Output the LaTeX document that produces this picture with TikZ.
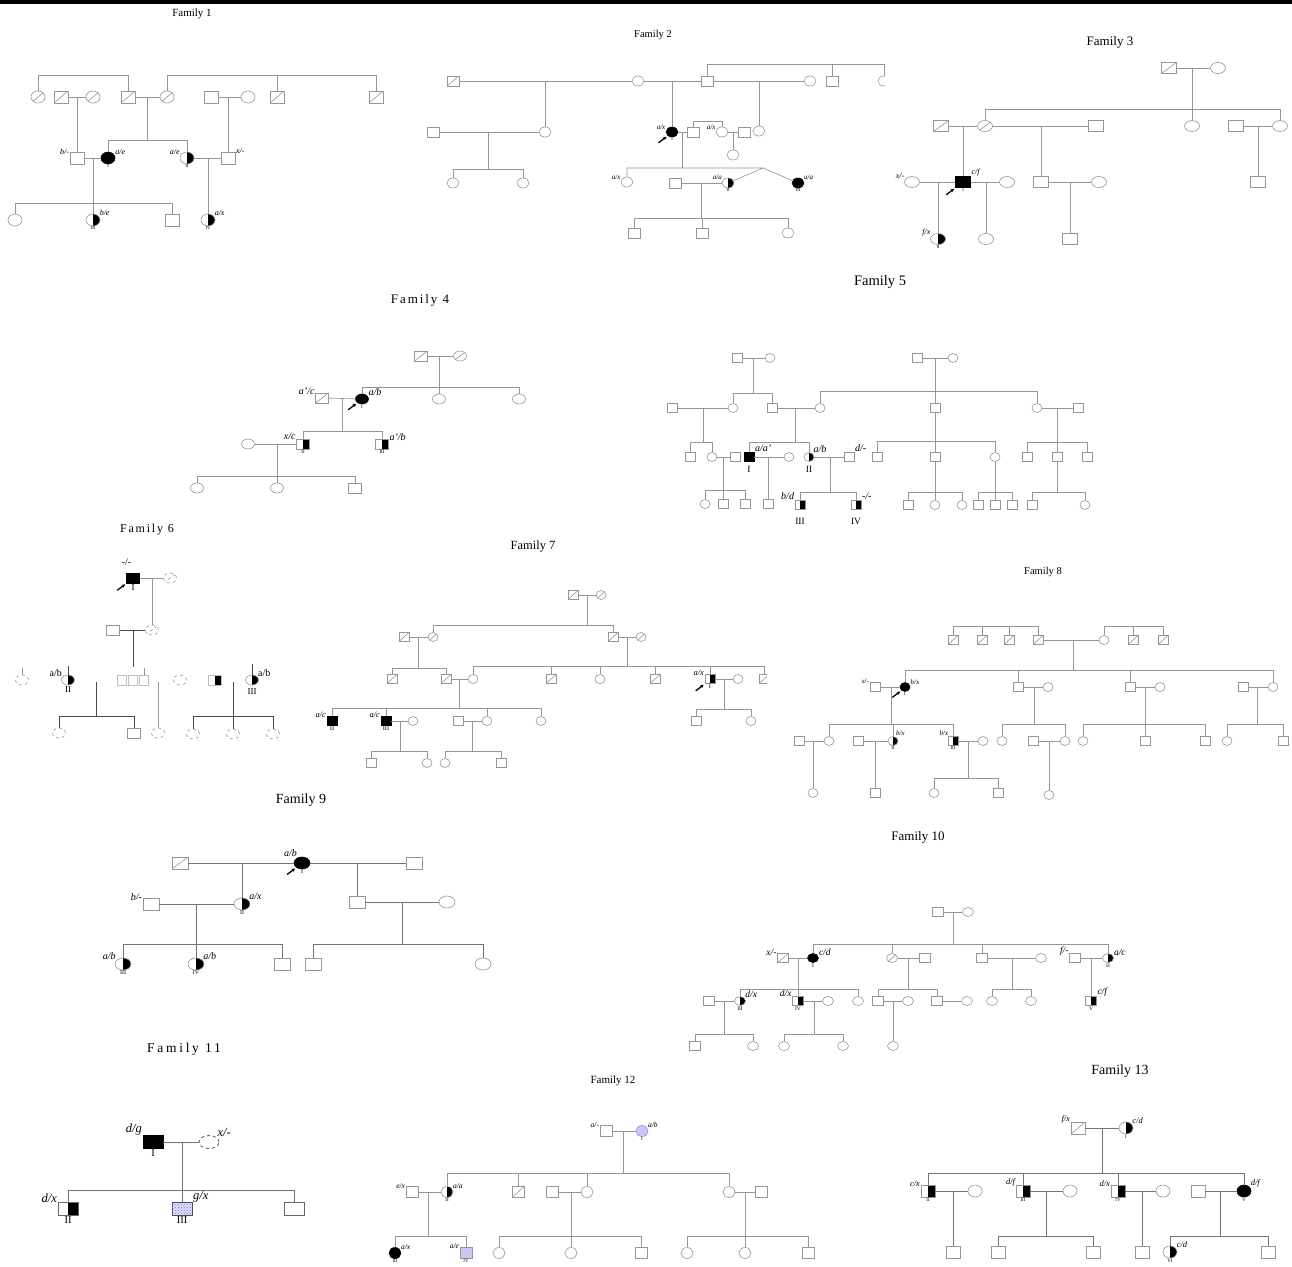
\documentclass[tikz,border=0pt]{standalone}
\usepackage{fontspec}
\setmainfont{Liberation Serif}
\usetikzlibrary{shapes.geometric,arrows.meta,patterns}
\definecolor{lgray}{RGB}{150,150,150}
\definecolor{lblue}{RGB}{200,200,240}
\tikzset{
  ln/.style={draw=lgray,line width=0.6pt},
  sym/.style={minimum width=12pt,minimum height=10pt},
  pbase/.style={sym,inner sep=0pt,draw=lgray,line width=0.6pt,fill=white},
  sq/.style={pbase,rectangle},
  ci/.style={pbase,ellipse},
  sqA/.style={sq,fill=black,draw=black},
  ciA/.style={ci,fill=black,draw=black},
  halfbk/.style={path picture={\fill[black] (path picture bounding box.north) rectangle (path picture bounding box.south east);}},
  sqH/.style={sq,halfbk},
  ciH/.style={ci,halfbk},
  slash/.style={path picture={\draw[lgray,line width=0.6pt] (path picture bounding box.south west) -- (path picture bounding box.north east);}},
  sqD/.style={sq,slash},
  ciD/.style={ci,slash},
  sqP/.style={sq,fill=lblue!60,draw=black!70,line width=0.9pt,postaction={pattern=crosshatch dots,pattern color=blue!55}},
  gt/.style={font=\fontsize{7}{7}\selectfont\itshape,inner sep=0.5pt},
  rn/.style={font=\fontsize{5}{5}\selectfont,inner sep=0.5pt},
  ttl/.style={font=\fontsize{11}{11}\selectfont},
  prb/.style={-{Stealth[length=3.5pt,width=3.5pt]},line width=1.3pt,black},
}
\newcommand\kids[3]{%
  \draw[ln] (#1) -- (#1 |- 0,#2);
  \foreach \kid in {#3} {\draw[ln] (\kid) |- (#1 |- 0,#2);}%
}
\newcommand\sibs[3]{%
  \foreach \kid in {#3} {\draw[ln] (#2) |- (\kid |- 0,#1) -- (\kid);}%
}
\newcommand\proband[1]{%
  \draw[prb] ([shift={(-9pt,-7pt)}]#1.south west) -- ([shift={(-1pt,-1pt)}]#1.south west);}

\begin{document}
\begin{tikzpicture}[x=1pt,y=-1pt]
  \fill[white] (0,0) rectangle (1292,1266);
  \useasboundingbox (0,0) rectangle (1292,1266);
  \fill[black] (0,0) rectangle (1292,4);

  % Family 1
  \begin{scope}[sym/.style={minimum width=14pt,minimum height=12pt},
    gt/.style={font=\fontsize{8}{8}\selectfont\itshape,inner sep=0.5pt},
    rn/.style={font=\fontsize{4.5}{4.5}\selectfont,inner sep=0.5pt}]
  \node[ttl] (t1) at (192,14) {Family 1};
  \node[ciD] (f1a) at (38,97) {};
  \node[sqD] (f1b) at (61,97) {};
  \node[ciD] (f1c) at (93,97) {};
  \node[sqD] (f1d) at (128,97) {};
  \node[ciD] (f1e) at (167,97) {};
  \node[sq] (f1f) at (211,97) {};
  \node[ci] (f1g) at (248,97) {};
  \node[sqD] (f1h) at (277,97) {};
  \node[sqD] (f1i) at (376,97) {};
  \sibs{75}{f1a}{f1d}
  \sibs{75}{f1e}{f1h,f1i}
  \draw[ln] (f1b) -- (f1c) (f1d) -- (f1e) (f1f) -- (f1g);
  \coordinate (f1m1) at (77,97);
  \coordinate (f1m2) at (147,97);
  \coordinate (f1m3) at (228,97);
  \node[sq,label={[gt]160:b/-}] (f1j) at (77,158) {};
  \node[ciA,label={[gt]20:a/e},label={[rn]below:I}] (f1k) at (108,158) {};
  \node[ciH,label={[gt]160:a/e},label={[rn]below:II}] (f1l) at (187,158) {};
  \node[sq,label={[gt]30:x/-}] (f1m) at (228,158) {};
  \draw[ln] (f1m1) -- (f1j) (f1m3) -- (f1m);
  \kids{f1m2}{140}{f1k,f1l}
  \draw[ln] (f1j) -- (f1k) (f1l) -- (f1m);
  \coordinate (f1m4) at (93,158);
  \coordinate (f1m5) at (208,158);
  \node[ci] (f1n) at (15,220) {};
  \node[ciH,label={[gt]30:b/e},label={[rn]below:III}] (f1o) at (93,220) {};
  \node[sq] (f1p) at (172,220) {};
  \node[ciH,label={[gt]30:a/x},label={[rn]below:IV}] (f1q) at (208,220) {};
  \kids{f1m4}{203}{f1n,f1o,f1p}
  \draw[ln] (f1m5) -- (f1q);
  \end{scope}

  % Family 2
  \begin{scope}[gt/.style={font=\fontsize{7}{7}\selectfont\itshape,inner sep=0.5pt},
    rn/.style={font=\fontsize{4.5}{4.5}\selectfont,inner sep=0.5pt},
    ttl/.style={font=\fontsize{10.5}{10.5}\selectfont}]
  \node[ttl] (t2) at (653,35) {Family 2};
  \node[sqD] (f2a) at (453,81) {};
  \node[ci] (f2b) at (638,81) {};
  \node[sq] (f2c) at (707,81) {};
  \node[ci] (f2d) at (810,81) {};
  \node[sq] (f2e) at (832,81) {};
  \begin{scope}
    \clip (870,70) rectangle (885,92);
    \node[ci] (f2f) at (884,81) {};
  \end{scope}
  \draw[ln] (f2a) -- (f2b) -- (f2c) -- (f2d);
  \sibs{64}{f2c}{f2e,f2f}
  \coordinate (f2p1) at (545,81);
  \coordinate (f2p2) at (672,81);
  \coordinate (f2p3) at (759,81);
  \node[sq] (f2g) at (433,132) {};
  \node[ci] (f2h) at (545,132) {};
  \node[ciA,label={[gt]165:a/x},label={[rn]below:I}] (f2i) at (672,132) {};
  \node[sq] (f2j) at (693,132) {};
  \node[ci,label={[gt]160:a/x}] (f2k) at (722,132) {};
  \node[sq] (f2l) at (744,132) {};
  \node[ci] (f2m) at (759,131) {};
  \draw[ln] (f2p1) -- (f2h) (f2p2) -- (f2i) (f2p3) -- (f2m);
  \draw[ln] (f2g) -- (f2h) (f2i) -- (f2j) (f2k) -- (f2l);
  \sibs{121}{f2j}{f2k}
  \proband{f2i}
  \coordinate (f2p4) at (488,132);
  \node[ci] (f2n) at (453,183) {};
  \node[ci] (f2o) at (523,183) {};
  \kids{f2p4}{169}{f2n,f2o}
  \coordinate (f2p5) at (733,132);
  \node[ci] (f2q) at (733,155) {};
  \draw[ln] (f2p5) -- (f2q);
  \coordinate (f2p6) at (682,132);
  \coordinate (f2tw) at (763,168);
  \node[ci,label={[gt]160:a/x}] (f2r) at (627,182) {};
  \node[sq] (f2s) at (675,183) {};
  \node[ciH,label={[gt]155:a/a},label={[rn]below:II}] (f2t) at (728,183) {};
  \node[ciA,label={[gt]25:a/a},label={[rn]below:III}] (f2u) at (798,183) {};
  \draw[ln] (f2p6) -- (f2p6 |- f2tw);
  \draw[ln] (f2r) |- (f2tw) -- (f2t) (f2tw) -- (f2u);
  \draw[ln] (f2s) -- (f2t);
  \coordinate (f2p7) at (701,183);
  \node[sq] (f2v) at (634,233) {};
  \node[sq] (f2w) at (702,233) {};
  \node[ci] (f2x) at (788,233) {};
  \kids{f2p7}{218}{f2v,f2w,f2x}
  \end{scope}

  % Family 3
  \begin{scope}[sym/.style={minimum width=15pt,minimum height=11pt},
    gt/.style={font=\fontsize{8}{8}\selectfont\itshape,inner sep=0.5pt},
    rn/.style={font=\fontsize{4.5}{4.5}\selectfont,inner sep=0.5pt},
    ttl/.style={font=\fontsize{13}{13}\selectfont}]
  \node[ttl] (t3) at (1110,42) {Family 3};
  \node[sqD] (f3a) at (1169,68) {};
  \node[ci] (f3b) at (1218,68) {};
  \draw[ln] (f3a) -- (f3b);
  \coordinate (f3p1) at (1192,68);
  \node[sqD] (f3c) at (941,126) {};
  \node[ciD] (f3d) at (985,126) {};
  \node[sq] (f3e) at (1096,126) {};
  \node[ci] (f3f) at (1192,126) {};
  \node[sq] (f3g) at (1236,126) {};
  \node[ci] (f3h) at (1280,126) {};
  \kids{f3p1}{109}{f3d,f3f,f3h}
  \draw[ln] (f3c) -- (f3d) -- (f3e) (f3g) -- (f3h);
  \coordinate (f3p2) at (963,126);
  \coordinate (f3p3) at (1041,126);
  \coordinate (f3p4) at (1258,126);
  \node[ci,label={[gt]160:x/-}] (f3i) at (912,182) {};
  \node[sqA,label={[gt]35:c/f},label={[rn]below:I}] (f3j) at (963,182) {};
  \node[ci] (f3k) at (1007,182) {};
  \node[sq] (f3l) at (1041,182) {};
  \node[ci] (f3m) at (1099,182) {};
  \node[sq] (f3n) at (1258,182) {};
  \draw[ln] (f3p2) -- (f3j) (f3p3) -- (f3l) (f3p4) -- (f3n);
  \draw[ln] (f3i) -- (f3j) -- (f3k) (f3l) -- (f3m);
  \proband{f3j}
  \coordinate (f3p5) at (938,182);
  \coordinate (f3p6) at (986,182);
  \coordinate (f3p7) at (1070,182);
  \node[ciH,label={[gt]160:f/x},label={[rn]below:II}] (f3o) at (938,239) {};
  \node[ci] (f3q) at (986,239) {};
  \node[sq] (f3r) at (1070,239) {};
  \draw[ln] (f3p5) -- (f3o) (f3p6) -- (f3q) (f3p7) -- (f3r);
  \end{scope}

  % Family 4
  \begin{scope}[sym/.style={minimum width=13pt,minimum height=10pt},
    gt/.style={font=\fontsize{10}{10}\selectfont\itshape,inner sep=0.5pt},
    rn/.style={font=\fontsize{5}{5}\selectfont,inner sep=0.5pt},
    ttl/.style={font=\fontsize{13}{13}\selectfont\addfontfeature{LetterSpace=15}}]
  \node[ttl] (t4) at (420,300) {Family 4};
  \node[sqD] (f4a) at (421,356) {};
  \node[ciD] (f4b) at (460,356) {};
  \draw[ln] (f4a) -- (f4b);
  \coordinate (f4p1) at (439,356);
  \node[sqD,label={[gt]160:a’/c}] (f4c) at (322,398) {};
  \node[ciA,label={[gt]25:a/b},label={[rn]below:I}] (f4d) at (362,399) {};
  \node[ci] (f4e) at (439,399) {};
  \node[ci] (f4f) at (519,399) {};
  \kids{f4p1}{387}{f4d,f4e,f4f}
  \draw[ln] (f4c) -- (f4d);
  \proband{f4d}
  \coordinate (f4p2) at (342,398);
  \node[ci] (f4g) at (248,444) {};
  \node[sqH,label={[gt]150:x/c},label={[rn]below:II}] (f4h) at (303,444) {};
  \node[sqH,label={[gt]25:a’/b},label={[rn]below:III}] (f4i) at (382,444) {};
  \kids{f4p2}{431}{f4h,f4i}
  \draw[ln] (f4g) -- (f4h);
  \coordinate (f4p3) at (277,444);
  \node[ci] (f4j) at (197,488) {};
  \node[ci] (f4k) at (277,488) {};
  \node[sq] (f4l) at (355,488) {};
  \kids{f4p3}{476}{f4j,f4k,f4l}
  \end{scope}

  % Family 5
  \begin{scope}[sym/.style={minimum width=10pt,minimum height=9pt},
    gt/.style={font=\fontsize{10}{10}\selectfont\itshape,inner sep=0.5pt},
    rn/.style={font=\fontsize{9.5}{9.5}\selectfont,inner sep=0.5pt,label distance=4pt},
    ttl/.style={font=\fontsize{14.5}{14.5}\selectfont}]
  \node[ttl] (t5) at (880,282) {Family 5};
  \node[sq] (f5a) at (737,358) {};
  \node[ci] (f5b) at (770,358) {};
  \node[sq] (f5c) at (917,358) {};
  \node[ci] (f5d) at (953,358) {};
  \draw[ln] (f5a) -- (f5b) (f5c) -- (f5d);
  \coordinate (f5p1) at (753,358);
  \coordinate (f5p2) at (935,358);
  \node[sq] (f5e) at (672,408) {};
  \node[ci] (f5f) at (733,408) {};
  \node[sq] (f5g) at (772,408) {};
  \node[ci] (f5h) at (820,408) {};
  \node[sq] (f5i) at (935,408) {};
  \node[ci] (f5j) at (1037,408) {};
  \node[sq] (f5k) at (1078,408) {};
  \kids{f5p1}{393}{f5f,f5g}
  \kids{f5p2}{391}{f5h,f5i,f5j}
  \draw[ln] (f5e) -- (f5f) (f5g) -- (f5h) (f5j) -- (f5k);
  \coordinate (f5p3) at (703,408);
  \coordinate (f5p4) at (795,408);
  \coordinate (f5p5) at (1057,408);
  \node[sq] (f5l) at (690,457) {};
  \node[ci] (f5m) at (712,457) {};
  \node[sq] (f5n) at (735,457) {};
  \node[sqA,label={[gt]40:a/a’},label={[rn]below:I}] (f5o) at (749,457) {};
  \node[ci] (f5q) at (789,457) {};
  \node[ciH,label={[gt]40:a/b},label={[rn]below:II}] (f5r) at (809,457) {};
  \node[sq,label={[gt]40:d/-}] (f5s) at (849,457) {};
  \node[sq] (f5t) at (877,457) {};
  \node[sq] (f5u) at (935,457) {};
  \node[ci] (f5v) at (995,457) {};
  \node[sq] (f5w) at (1027,457) {};
  \node[sq] (f5x) at (1057,457) {};
  \node[sq] (f5y) at (1087,457) {};
  \kids{f5p3}{442}{f5l,f5m}
  \kids{f5p4}{442}{f5o,f5r}
  \kids{f5i}{441}{f5t,f5u,f5v}
  \kids{f5p5}{442}{f5w,f5x,f5y}
  \draw[ln] (f5m) -- (f5n) (f5o) -- (f5q) (f5r) -- (f5s);
  \coordinate (f5p6) at (723,457);
  \coordinate (f5p7) at (768,457);
  \coordinate (f5p8) at (830,457);
  \node[ci] (f5z) at (705,504) {};
  \node[sq] (f5aa) at (723,504) {};
  \node[sq] (f5ab) at (745,504) {};
  \kids{f5p6}{490}{f5z,f5aa,f5ab}
  \node[sq] (f5ac) at (768,504) {};
  \draw[ln] (f5p7) -- (f5ac);
  \node[sqH,label={[gt]140:b/d},label={[rn,label distance=8pt]below:III}] (f5ad) at (800,505) {};
  \node[sqH,label={[gt]40:-/-},label={[rn,label distance=8pt]below:IV}] (f5ae) at (856,505) {};
  \kids{f5p8}{492}{f5ad,f5ae}
  \node[sq] (f5af) at (908,505) {};
  \node[ci] (f5ag) at (935,505) {};
  \node[ci] (f5ah) at (962,505) {};
  \kids{f5u}{492}{f5af,f5ag,f5ah}
  \node[sq] (f5ai) at (978,505) {};
  \node[sq] (f5aj) at (995,505) {};
  \node[sq] (f5ak) at (1012,505) {};
  \kids{f5v}{492}{f5ai,f5aj,f5ak}
  \node[sq] (f5al) at (1032,505) {};
  \node[ci] (f5am) at (1085,505) {};
  \kids{f5x}{492}{f5al,f5am}
  \end{scope}

  % Family 6
  \begin{scope}[sym/.style={minimum width=13pt,minimum height=10pt},
    ln/.style={draw=black!70,line width=0.9pt},
    gt/.style={font=\fontsize{10}{10}\selectfont,inner sep=0.5pt},
    rn/.style={font=\fontsize{9}{9}\selectfont,inner sep=0.5pt,label distance=1pt},
    ttl/.style={font=\fontsize{12}{12}\selectfont\addfontfeature{LetterSpace=15}}]
  \node[ttl] (t6) at (147,530) {Family 6};
  \node[sqA,label={[gt,label distance=6pt]95:-/-},label={[rn]below:I}] (f6a) at (133,578) {};
  \node[ciD,dashed] (f6b) at (170,578) {};
  \draw[ln,lgray] (f6a) -- (f6b);
  \proband{f6a}
  \coordinate (f6p1) at (152,578);
  \node[sq] (f6c) at (113,630) {};
  \node[ciD,dashed] (f6d) at (152,630) {};
  \draw[ln,lgray] (f6p1) -- (f6d);
  \draw[ln] (f6c) -- (f6d);
  \coordinate (f6p2) at (133,630);
  \coordinate (f6e) at (133,667);
  \draw[ln] (f6p2) -- (f6e);
  \node[ci,dashed] (f6f) at (22,680) {};
  \node[ciH,label={[gt]150:a/b},label={[rn]below:II}] (f6g) at (68,680) {};
  \node[sq,minimum width=9pt,draw=lgray!60] (f6h) at (122,680) {};
  \node[sq,minimum width=9pt,draw=lgray!60] (f6i) at (133,680) {};
  \node[sq,minimum width=9pt,draw=lgray!60] (f6j) at (144,680) {};
  \node[ci,dashed] (f6k) at (180,680) {};
  \node[sqH,draw=lgray!60] (f6l) at (215,680) {};
  \node[ciH,label={[gt]30:a/b},label={[rn,label distance=3pt]below:III}] (f6m) at (252,680) {};
  \draw[ln,lgray] (f6f) -- ++(0,-12);
  \draw[ln] (f6g) -- ++(0,-14);
  \draw[ln,lgray] (f6j) -- ++(0,-12);
  \draw[ln] (f6m) -- ++(0,-16);
  \coordinate (f6p3) at (96,682);
  \node[ci,dashed] (f6n) at (59,733) {};
  \node[sq] (f6o) at (134,733) {};
  \kids{f6p3}{716}{f6n,f6o}
  \coordinate (f6p4) at (158,682);
  \node[ci,dashed] (f6q) at (158,733) {};
  \draw[ln,lgray] (f6p4) -- (f6q);
  \coordinate (f6p5) at (233,682);
  \node[ci,dashed] (f6r) at (193,734) {};
  \node[ci,dashed] (f6s) at (233,734) {};
  \node[ci,dashed] (f6t) at (273,734) {};
  \kids{f6p5}{716}{f6r,f6s,f6t}
  \end{scope}

  % Family 7
  \begin{scope}[sym/.style={minimum width=10pt,minimum height=9pt},
    gt/.style={font=\fontsize{8.5}{8.5}\selectfont\itshape,inner sep=0.5pt},
    rn/.style={font=\fontsize{6.5}{6.5}\selectfont,inner sep=0.5pt},
    ttl/.style={font=\fontsize{12.5}{12.5}\selectfont}]
  \node[ttl] (t7) at (533,547) {Family 7};
  \node[sqD] (f7a) at (573,595) {};
  \node[ciD] (f7b) at (601,595) {};
  \draw[ln] (f7a) -- (f7b);
  \coordinate (f7p1) at (587,595);
  \node[sqD] (f7c) at (404,637) {};
  \node[ciD] (f7d) at (433,637) {};
  \node[sqD] (f7e) at (613,637) {};
  \node[ciD] (f7f) at (641,637) {};
  \kids{f7p1}{625}{f7d,f7e}
  \draw[ln] (f7c) -- (f7d) (f7e) -- (f7f);
  \coordinate (f7p2) at (418,637);
  \coordinate (f7p3) at (627,637);
  \node[sqD] (f7g) at (392,679) {};
  \node[sqD] (f7h) at (446,679) {};
  \node[ci] (f7i) at (473,679) {};
  \node[sqD] (f7j) at (551,679) {};
  \node[ci] (f7k) at (600,679) {};
  \node[sqD] (f7l) at (655,679) {};
  \node[sqH,label={[gt]150:a/x},label={[rn]below:I}] (f7m) at (710,679) {};
  \node[ci] (f7n) at (738,679) {};
  \begin{scope}
    \clip (755,670) rectangle (767,690);
    \node[sqD] (f7o) at (764,679) {};
  \end{scope}
  \kids{f7p2}{668}{f7g,f7h}
  \kids{f7p3}{666}{f7i,f7j,f7k,f7l,f7m,f7o}
  \draw[ln] (f7h) -- (f7i) (f7m) -- (f7n);
  \proband{f7m}
  \coordinate (f7p4) at (459,679);
  \coordinate (f7p5) at (724,679);
  \node[sqA,label={[gt]150:a/c},label={[rn]below:II}] (f7q) at (332,721) {};
  \node[sqA,label={[gt]150:a/c},label={[rn]below:III}] (f7r) at (386,721) {};
  \node[ci] (f7s) at (413,721) {};
  \node[sq] (f7t) at (458,721) {};
  \node[ci] (f7u) at (487,721) {};
  \node[ci] (f7v) at (541,721) {};
  \kids{f7p4}{708}{f7q,f7r,f7u,f7v}
  \draw[ln] (f7r) -- (f7s) (f7t) -- (f7u);
  \node[sq] (f7w) at (696,721) {};
  \node[ci] (f7x) at (751,721) {};
  \kids{f7p5}{709}{f7w,f7x}
  \coordinate (f7p6) at (400,721);
  \coordinate (f7p7) at (472,721);
  \node[sq] (f7y) at (371,763) {};
  \node[ci] (f7z) at (427,763) {};
  \node[ci] (f7aa) at (445,763) {};
  \node[sq] (f7ab) at (501,763) {};
  \kids{f7p6}{751}{f7y,f7z}
  \kids{f7p7}{751}{f7aa,f7ab}
  \end{scope}

  % Family 8
  \begin{scope}[sym/.style={minimum width=10pt,minimum height=9pt},
    gt/.style={font=\fontsize{7}{7}\selectfont\itshape,inner sep=0.5pt},
    rn/.style={font=\fontsize{5}{5}\selectfont,inner sep=0.5pt},
    ttl/.style={font=\fontsize{10.5}{10.5}\selectfont}]
  \node[ttl] (t8) at (1043,572) {Family 8};
  \node[sqD] (f8a) at (953,640) {};
  \node[sqD] (f8b) at (982,640) {};
  \node[sqD] (f8c) at (1009,640) {};
  \node[sqD] (f8d) at (1038,640) {};
  \node[ci] (f8e) at (1104,640) {};
  \node[sqD] (f8f) at (1133,640) {};
  \node[sqD] (f8g) at (1163,640) {};
  \sibs{626}{f8a}{f8b,f8c,f8d}
  \sibs{626}{f8e}{f8f,f8g}
  \draw[ln] (f8d) -- (f8e);
  \coordinate (f8p1) at (1073,640);
  \node[sq,label={[gt]150:x/-}] (f8h) at (875,687) {};
  \node[ciA,label={[gt]20:b/x},label={[rn]below:I}] (f8i) at (905,687) {};
  \node[sq] (f8j) at (1018,687) {};
  \node[ci] (f8k) at (1048,687) {};
  \node[sq] (f8l) at (1130,687) {};
  \node[ci] (f8m) at (1160,687) {};
  \node[sq] (f8n) at (1243,687) {};
  \node[ci] (f8o) at (1273,687) {};
  \kids{f8p1}{670}{f8i,f8j,f8l,f8o}
  \draw[ln] (f8h) -- (f8i) (f8j) -- (f8k) (f8l) -- (f8m) (f8n) -- (f8o);
  \proband{f8i}
  \coordinate (f8p2) at (891,687);
  \coordinate (f8p3) at (1034,687);
  \coordinate (f8p4) at (1145,687);
  \coordinate (f8p5) at (1257,687);
  \node[sq] (f8q) at (799,741) {};
  \node[ci] (f8r) at (829,741) {};
  \node[sq] (f8s) at (858,741) {};
  \node[ciH,label={[gt]60:b/x},label={[rn]below:II}] (f8t) at (893,741) {};
  \node[sqH,label={[gt]130:b/x},label={[rn]below:III}] (f8u) at (953,741) {};
  \node[ci] (f8v) at (983,741) {};
  \node[ci] (f8w) at (1002,741) {};
  \node[sq] (f8x) at (1033,741) {};
  \node[ci] (f8y) at (1065,741) {};
  \node[ci] (f8z) at (1083,741) {};
  \node[sq] (f8aa) at (1145,741) {};
  \node[sq] (f8ab) at (1205,741) {};
  \node[ci] (f8ac) at (1227,741) {};
  \node[sq] (f8ad) at (1283,741) {};
  \kids{f8p2}{724}{f8r,f8t,f8u}
  \kids{f8p3}{724}{f8w,f8y}
  \kids{f8p4}{724}{f8z,f8aa,f8ab}
  \kids{f8p5}{724}{f8ac,f8ad}
  \draw[ln] (f8q) -- (f8r) (f8s) -- (f8t) (f8u) -- (f8v) (f8x) -- (f8y);
  \coordinate (f8p6) at (813,741);
  \coordinate (f8p7) at (875,741);
  \coordinate (f8p8) at (968,741);
  \coordinate (f8p9) at (1049,741);
  \node[ci] (f8ae) at (813,793) {};
  \node[sq] (f8af) at (875,793) {};
  \node[ci] (f8ag) at (934,793) {};
  \node[sq] (f8ah) at (998,793) {};
  \node[ci] (f8ai) at (1049,795) {};
  \draw[ln] (f8p6) -- (f8ae) (f8p7) -- (f8af) (f8p9) -- (f8ai);
  \kids{f8p8}{778}{f8ag,f8ah}
  \end{scope}

  % Family 9
  \begin{scope}[sym/.style={minimum width=16pt,minimum height=12pt},
    ln/.style={draw=black!55,line width=0.6pt},
    gt/.style={font=\fontsize{10}{10}\selectfont\itshape,inner sep=0.5pt},
    rn/.style={font=\fontsize{6}{6}\selectfont,inner sep=0.5pt},
    ttl/.style={font=\fontsize{14}{14}\selectfont}]
  \node[ttl] (t9) at (301,800) {Family 9};
  \node[sqD] (f9a) at (180,863) {};
  \node[ciA,label={[gt]130:a/b},label={[rn]below:I}] (f9b) at (302,863) {};
  \node[sq] (f9c) at (414,863) {};
  \draw[ln] (f9a) -- (f9b) -- (f9c);
  \proband{f9b}
  \coordinate (f9p1) at (242,863);
  \coordinate (f9p2) at (357,863);
  \node[sq,label={[gt]160:b/-}] (f9d) at (151,904) {};
  \node[ciH,label={[gt]30:a/x},label={[rn]below:II}] (f9e) at (242,904) {};
  \node[sq] (f9f) at (357,902) {};
  \node[ci] (f9g) at (447,902) {};
  \draw[ln] (f9p1) -- (f9e) (f9p2) -- (f9f) (f9d) -- (f9e) (f9f) -- (f9g);
  \coordinate (f9p3) at (196,904);
  \coordinate (f9p4) at (402,902);
  \node[ciH,label={[gt]150:a/b},label={[rn]below:III}] (f9h) at (123,964) {};
  \node[ciH,label={[gt]30:a/b},label={[rn]below:IV}] (f9i) at (196,964) {};
  \node[sq] (f9j) at (282,964) {};
  \node[sq] (f9k) at (313,964) {};
  \node[ci] (f9l) at (483,964) {};
  \kids{f9p3}{944}{f9h,f9i,f9j}
  \kids{f9p4}{944}{f9k,f9l}
  \end{scope}

  % Family 10
  \begin{scope}[sym/.style={minimum width=11pt,minimum height=9pt},
    gt/.style={font=\fontsize{9.5}{9.5}\selectfont\itshape,inner sep=0.5pt},
    rn/.style={font=\fontsize{5.5}{5.5}\selectfont,inner sep=0.5pt},
    ttl/.style={font=\fontsize{13}{13}\selectfont}]
  \node[ttl] (t10) at (918,837) {Family 10};
  \node[sq] (f10a) at (938,912) {};
  \node[ci] (f10b) at (968,912) {};
  \draw[ln] (f10a) -- (f10b);
  \coordinate (f10p1) at (953,912);
  \node[sqD,label={[gt]160:x/-}] (f10c) at (783,958) {};
  \node[ciA,label={[gt]20:c/d},label={[rn]below:I}] (f10d) at (813,958) {};
  \node[ciD] (f10e) at (892,958) {};
  \node[sq] (f10f) at (925,958) {};
  \node[sq] (f10g) at (982,958) {};
  \node[ci] (f10h) at (1041,958) {};
  \node[sq,label={[gt]160:f/-}] (f10i) at (1075,958) {};
  \node[ciH,label={[gt]20:a/c},label={[rn]below:II}] (f10j) at (1108,958) {};
  \kids{f10p1}{944}{f10d,f10e,f10g,f10j}
  \draw[ln] (f10c) -- (f10d) (f10e) -- (f10f) (f10g) -- (f10h) (f10i) -- (f10j);
  \coordinate (f10p2) at (798,958);
  \coordinate (f10p3) at (908,958);
  \coordinate (f10p4) at (1012,958);
  \coordinate (f10p5) at (1091,958);
  \node[sq] (f10k) at (709,1001) {};
  \node[ciH,label={[gt]30:d/x},label={[rn]below:III}] (f10l) at (740,1001) {};
  \node[sqH,label={[gt]150:d/x},label={[rn]below:IV}] (f10m) at (798,1001) {};
  \node[ci] (f10n) at (828,1001) {};
  \node[ci] (f10o) at (858,1001) {};
  \node[sq] (f10q) at (878,1001) {};
  \node[ci] (f10r) at (908,1001) {};
  \node[sq] (f10s) at (937,1001) {};
  \node[ci] (f10t) at (967,1001) {};
  \node[ci] (f10u) at (992,1001) {};
  \node[ci] (f10v) at (1031,1001) {};
  \node[sqH,label={[gt]30:c/f},label={[rn]below:V}] (f10w) at (1091,1001) {};
  \kids{f10p2}{989}{f10l,f10m,f10o}
  \kids{f10p3}{989}{f10q,f10s}
  \kids{f10p4}{989}{f10u,f10v}
  \draw[ln] (f10p5) -- (f10w);
  \draw[ln] (f10k) -- (f10l) (f10m) -- (f10n) (f10q) -- (f10r) (f10s) -- (f10t);
  \coordinate (f10p6) at (724,1001);
  \coordinate (f10p7) at (814,1001);
  \coordinate (f10p8) at (893,1001);
  \node[sq] (f10x) at (695,1046) {};
  \node[ci] (f10y) at (753,1046) {};
  \node[ci] (f10z) at (784,1046) {};
  \node[ci] (f10aa) at (843,1046) {};
  \node[ci] (f10ab) at (893,1046) {};
  \kids{f10p6}{1034}{f10x,f10y}
  \kids{f10p7}{1034}{f10z,f10aa}
  \draw[ln] (f10p8) -- (f10ab);
  \end{scope}

  % Family 11
  \begin{scope}[sym/.style={minimum width=20pt,minimum height=13pt},
    ln/.style={draw=black!55,line width=0.7pt},
    pbase/.style={sym,inner sep=0pt,draw=black!60,line width=0.9pt,fill=white},
    gt/.style={font=\fontsize{12.5}{12.5}\selectfont\itshape,inner sep=0.5pt},
    rn/.style={font=\fontsize{10.5}{10.5}\selectfont,inner sep=0.5pt},
    ttl/.style={font=\fontsize{13.5}{13.5}\selectfont\addfontfeature{LetterSpace=20}}]
  \node[ttl] (t11) at (184,1049) {Family 11};
  \node[sqA,label={[gt]150:d/g},label={[rn]below:I}] (f11a) at (153,1142) {};
  \node[ci,dashed,label={[gt]30:x/-}] (f11b) at (209,1142) {};
  \draw[ln] (f11a) -- (f11b);
  \coordinate (f11p1) at (182,1142);
  \node[sqH,label={[gt]150:d/x},label={[rn]below:II}] (f11c) at (68,1209) {};
  \node[sqP,label={[gt]30:g/x},label={[rn]below:III}] (f11d) at (182,1209) {};
  \node[sq] (f11e) at (294,1209) {};
  \kids{f11p1}{1190}{f11c,f11d,f11e}
  \end{scope}

  % Family 12
  \begin{scope}[sym/.style={minimum width=12pt,minimum height=11pt},
    gt/.style={font=\fontsize{7.5}{7.5}\selectfont\itshape,inner sep=0.5pt},
    rn/.style={font=\fontsize{5}{5}\selectfont,inner sep=0.5pt},
    ttl/.style={font=\fontsize{11}{11}\selectfont}]
  \node[ttl] (t12) at (613,1081) {Family 12};
  \node[sq,label={[gt]160:a/-}] (f12a) at (606,1131) {};
  \node[ci,fill=lblue,draw=lblue!70!blue,label={[gt]30:a/b},label={[rn]below:I}] (f12b) at (642,1131) {};
  \draw[ln] (f12a) -- (f12b);
  \coordinate (f12p1) at (623,1131);
  \node[sq,label={[gt]160:e/x}] (f12c) at (412,1192) {};
  \node[ciH,label={[gt]30:a/a},label={[rn]below:II}] (f12d) at (447,1192) {};
  \node[sqD] (f12e) at (518,1192) {};
  \node[sq] (f12f) at (552,1192) {};
  \node[ci] (f12g) at (587,1192) {};
  \node[ci] (f12h) at (729,1192) {};
  \node[sq] (f12i) at (761,1192) {};
  \kids{f12p1}{1173}{f12d,f12e,f12g,f12h}
  \draw[ln] (f12c) -- (f12d) (f12f) -- (f12g) (f12h) -- (f12i);
  \coordinate (f12p2) at (428,1192);
  \coordinate (f12p3) at (571,1192);
  \coordinate (f12p4) at (745,1192);
  \node[ciA,label={[gt]30:a/x},label={[rn]below:III}] (f12j) at (395,1253) {};
  \node[sq,fill=lblue,label={[gt]150:a/e},label={[rn]below:IV}] (f12k) at (466,1253) {};
  \node[ci] (f12l) at (499,1253) {};
  \node[ci] (f12m) at (571,1253) {};
  \node[sq] (f12n) at (641,1253) {};
  \node[ci] (f12o) at (687,1253) {};
  \node[ci] (f12q) at (745,1253) {};
  \node[sq] (f12r) at (808,1253) {};
  \kids{f12p2}{1236}{f12j,f12k}
  \kids{f12p3}{1236}{f12l,f12m,f12n}
  \kids{f12p4}{1236}{f12o,f12q,f12r}
  \end{scope}

  % Family 13
  \begin{scope}[sym/.style={minimum width=14pt,minimum height=12pt},
    ln/.style={draw=black!55,line width=0.6pt},
    gt/.style={font=\fontsize{8.5}{8.5}\selectfont\itshape,inner sep=0.5pt},
    rn/.style={font=\fontsize{5}{5}\selectfont,inner sep=0.5pt},
    ttl/.style={font=\fontsize{14}{14}\selectfont}]
  \node[ttl] (t13) at (1120,1071) {Family 13};
  \node[sqD,label={[gt]150:f/x}] (f13a) at (1078,1128) {};
  \node[ciH,label={[gt]35:c/d},label={[rn]below:I}] (f13b) at (1126,1128) {};
  \draw[ln] (f13a) -- (f13b);
  \coordinate (f13p1) at (1102,1128);
  \node[sqH,label={[gt]150:c/x},label={[rn]below:II}] (f13c) at (928,1191) {};
  \node[ci] (f13d) at (975,1191) {};
  \node[sqH,label={[gt]150:d/f},label={[rn]below:III}] (f13e) at (1023,1191) {};
  \node[ci] (f13f) at (1070,1191) {};
  \node[sqH,label={[gt]150:d/x},label={[rn]below:IV}] (f13g) at (1118,1191) {};
  \node[ci] (f13h) at (1163,1191) {};
  \node[sq] (f13i) at (1198,1191) {};
  \node[ciA,label={[gt]30:d/f},label={[rn]below:V}] (f13j) at (1244,1191) {};
  \kids{f13p1}{1173}{f13c,f13e,f13g,f13j}
  \draw[ln] (f13c) -- (f13d) (f13e) -- (f13f) (f13g) -- (f13h) (f13i) -- (f13j);
  \coordinate (f13p2) at (953,1191);
  \coordinate (f13p3) at (1046,1191);
  \coordinate (f13p4) at (1142,1191);
  \coordinate (f13p5) at (1220,1191);
  \node[sq] (f13k) at (953,1252) {};
  \node[sq] (f13l) at (998,1252) {};
  \node[sq] (f13m) at (1093,1252) {};
  \node[sq] (f13n) at (1142,1252) {};
  \node[ciH,label={[gt]30:c/d},label={[rn]below:VI}] (f13o) at (1170,1252) {};
  \node[sq] (f13q) at (1268,1252) {};
  \draw[ln] (f13p2) -- (f13k) (f13p4) -- (f13n);
  \kids{f13p3}{1236}{f13l,f13m}
  \kids{f13p5}{1236}{f13o,f13q}
  \end{scope}
\end{tikzpicture}
\end{document}
